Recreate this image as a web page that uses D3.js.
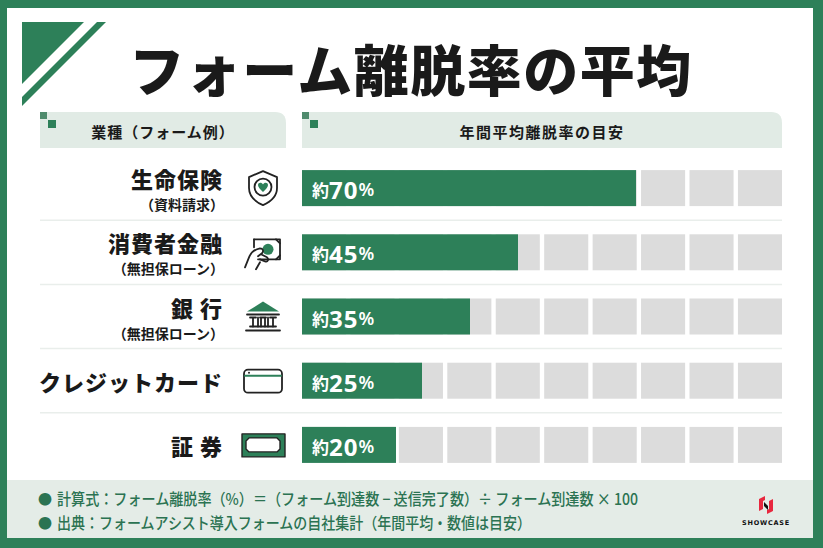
<!DOCTYPE html>
<html>
<head>
<meta charset="utf-8">
<script src="https://cdn.jsdelivr.net/npm/d3@7"></script>
<style>
  html, body { margin: 0; padding: 0; background: #fff; }
  svg { display: block; font-family: "Noto Sans CJK JP", "Noto Sans", sans-serif; }
</style>
</head>
<body>
<svg id="chart"></svg>
<script>
// data
const categories = ['生命保険', '消費者金融', '銀 行', 'クレジットカード', '証 券']
const subLabels = ['（資料請求）', '（無担保ローン）', '（無担保ローン）', '', '']
const rates = [70, 45, 35, 25, 20]
const segmentTicks = [0, 10, 20, 30, 40, 50, 60, 70, 80, 90]
const iconKinds = ['shield', 'money', 'bank', 'card', 'bond']

const titleText = 'フォーム離脱率の平均'
const headLeft = '業種（フォーム例）'
const headRight = '年間平均離脱率の目安'
const notes = [
  '計算式：フォーム離脱率（%）＝（フォーム到達数 − 送信完了数）÷ フォーム到達数 × 100',
  '出典：フォームアシスト導入フォームの自社集計（年間平均・数値は目安）'
]
const noteWidths = [581, 474]

const w = 823
const h = 548
const green = '#2d8059'
const mint = '#e1ebe5'
const ink = '#1a1a1a'

let svg = d3.select('#chart').attr('width', w).attr('height', h)

// frame
svg.append('rect').attr('width', w).attr('height', h).attr('fill', green)
svg.append('rect').attr('x', 7).attr('y', 8).attr('width', 806).attr('height', 530).attr('fill', '#fff')
svg.append('rect').attr('x', 7).attr('y', 480).attr('width', 806).attr('height', 58).attr('fill', '#e4ece7')

// corner decoration
svg.append('path').attr('d', 'M22,22 L84,22 L22,84 Z').attr('fill', green)
svg.append('path').attr('d', 'M97,22 L106,22 L22,106 L22,97 Z').attr('fill', green)

// title
svg.append('text')
  .attr('x', 411).attr('y', 67)
  .attr('text-anchor', 'middle').attr('dominant-baseline', 'central')
  .attr('font-size', 55).attr('font-weight', 900).attr('fill', ink)
  .attr('letter-spacing', 1.5)
  .text(titleText)

// scales
let xScale = d3.scaleLinear().domain([0, 100]).range([302, 782])
let segScale = d3.scaleBand().domain(segmentTicks).range([302, 782]).paddingInner(0.09)
let yScale = d3.scaleBand().domain(categories).range([156, 477])
const barH = 36

// headers
let headerPath = (x0, x1, y0, y1, r) =>
  `M${x0},${y0} L${x1 - r},${y0} Q${x1},${y0} ${x1},${y0 + r} L${x1},${y1} L${x0},${y1} Z`

svg.append('path').attr('d', headerPath(40, 286, 112, 148, 11)).attr('fill', mint)
svg.append('path').attr('d', headerPath(302, 782, 112, 148, 11)).attr('fill', mint)
;[40, 302].forEach(x0 => {
  svg.append('rect').attr('x', x0).attr('y', 112).attr('width', 7).attr('height', 7).attr('fill', '#4f8b6d')
  svg.append('rect').attr('x', x0 + 8).attr('y', 120).attr('width', 8).attr('height', 8).attr('fill', green)
})
svg.append('text').attr('x', 163).attr('y', 131)
  .attr('text-anchor', 'middle').attr('dominant-baseline', 'central')
  .attr('font-size', 15).attr('font-weight', 700).attr('fill', ink).attr('letter-spacing', 1)
  .text(headLeft)
svg.append('text').attr('x', 542).attr('y', 131)
  .attr('text-anchor', 'middle').attr('dominant-baseline', 'central')
  .attr('font-size', 15).attr('font-weight', 700).attr('fill', ink).attr('letter-spacing', 1.5)
  .text(headRight)

// separators
svg.selectAll('.sep')
  .data(categories.slice(1))
  .enter()
  .append('line')
  .attr('class', 'sep')
  .attr('x1', 40).attr('x2', 782)
  .attr('y1', d => yScale(d)).attr('y2', d => yScale(d))
  .attr('stroke', '#e9eeeb').attr('stroke-width', 1.5)

let rows = svg.selectAll('.row')
  .data(categories)
  .enter()
  .append('g')
  .attr('class', 'row')
  .attr('transform', d => 'translate(0,' + (yScale(d) + yScale.bandwidth() / 2) + ')')

// gray segments
rows.selectAll('.seg')
  .data(segmentTicks)
  .enter()
  .append('rect')
  .attr('class', 'seg')
  .attr('x', t => segScale(t))
  .attr('y', -barH / 2)
  .attr('width', segScale.bandwidth())
  .attr('height', barH)
  .attr('fill', '#dcdcdc')

// green bars
rows.append('rect')
  .attr('x', xScale(0))
  .attr('y', -barH / 2)
  .attr('width', (d, i) => xScale(rates[i]) - xScale(0) - (rates[i] % 10 === 0 ? 2 : 0))
  .attr('height', barH)
  .attr('fill', green)

let valText = rows.append('text')
  .attr('x', 312).attr('y', 1)
  .attr('dominant-baseline', 'central')
  .attr('fill', '#fff').attr('font-weight', 700)
valText.append('tspan').attr('font-size', 17).text('約')
valText.append('tspan').attr('font-size', 24).attr('font-family', '"Noto Sans", sans-serif')
  .attr('letter-spacing', 1).text((d, i) => rates[i])
valText.append('tspan').attr('font-size', 18).attr('font-family', '"Noto Sans", sans-serif')
  .attr('font-weight', 600).text('%')

// labels
rows.append('text')
  .attr('x', 223)
  .attr('y', (d, i) => subLabels[i] ? -10 : 0)
  .attr('text-anchor', 'end').attr('dominant-baseline', 'central')
  .attr('font-size', 22).attr('font-weight', 900).attr('fill', ink)
  .attr('letter-spacing', 1)
  .text(d => d)
rows.append('text')
  .attr('x', 224).attr('y', 16)
  .attr('text-anchor', 'end').attr('dominant-baseline', 'central')
  .attr('font-size', 14).attr('font-weight', 700).attr('fill', ink)
  .text((d, i) => subLabels[i])

// icons
let icons = rows.append('g').attr('transform', 'translate(263,0)')
  .attr('fill', 'none').attr('stroke', '#222').attr('stroke-width', 1.8)
  .attr('stroke-linejoin', 'round').attr('stroke-linecap', 'round')

icons.each(function (d, i) {
  let g = d3.select(this)
  let kind = iconKinds[i]
  if (kind === 'shield') {
    g.append('path').attr('d', 'M0,-17 L14,-11 L14,0 C14,9 7,14 0,17 C-7,14 -14,9 -14,0 L-14,-11 Z')
    g.append('circle').attr('cx', 0).attr('cy', -1).attr('r', 8.5)
    g.append('path').attr('stroke', 'none').attr('fill', green)
      .attr('d', 'M0,4 C-3,1 -5,-1 -5,-3 C-5,-6 -1,-6 0,-3.5 C1,-6 5,-6 5,-3 C5,-1 3,1 0,4 Z')
  } else if (kind === 'money') {
    g.append('path').attr('d', 'M-9,-13 L17,-13 L17,7 L-5,7')
    g.append('path').attr('d', 'M-9,-13 L-9,-5')
    g.append('path').attr('d', 'M13,-13 L17,-9 M13,7 L17,3')
    g.append('circle').attr('cx', 5).attr('cy', -3).attr('r', 5.5).attr('fill', green).attr('stroke', 'none')
    g.append('path').attr('d', 'M-18,15 L-14,5 C-12,0 -8,-3 -3,-4 C0,-4 1,-1 -1,1 L-5,4 M-2,2 L4,5 C6,7 5,10 2,9 L-3,7 M-7,17 L-3,10')
  } else if (kind === 'bank') {
    g.append('path').attr('d', 'M-16,-5 L0,-15 L16,-5 Z').attr('fill', green).attr('stroke', 'none')
    g.append('path').attr('d', 'M-16,-2 L16,-2')
    g.append('path').attr('d', 'M-10,1 L-10,10 M-5,1 L-5,10 M5,1 L5,10 M10,1 L10,10 M-2,1 L-2,10 M2,1 L2,10 M-13,1 L-7,1 M-3,1 L3,1 M7,1 L13,1')
    g.append('path').attr('d', 'M-13,10 L13,10 M-17,14 L17,14')
  } else if (kind === 'card') {
    g.append('rect').attr('x', -19).attr('y', -11).attr('width', 38).attr('height', 23).attr('rx', 4).attr('fill', '#fff')
    g.append('line').attr('x1', -18).attr('x2', 18).attr('y1', -5).attr('y2', -5).attr('stroke', green).attr('stroke-width', 2)
    g.append('circle').attr('cx', -14).attr('cy', -8).attr('r', 1).attr('fill', '#222').attr('stroke', 'none')
  } else {
    g.append('rect').attr('x', -21).attr('y', -11).attr('width', 43).attr('height', 23).attr('fill', green).attr('stroke-width', 1.4)
    g.append('path').attr('fill', '#fff').attr('stroke', '#222').attr('stroke-width', 1.4)
      .attr('d', 'M-14,-7 L14,-7 L17,-4 L17,4 L14,7 L-14,7 L-17,4 L-17,-4 Z')
  }
})

// footer notes
notes.forEach((t, i) => {
  let yy = 498 + i * 24
  svg.append('text').attr('x', 38).attr('y', yy)
    .attr('dominant-baseline', 'central').attr('font-size', 14).attr('fill', '#2b7352')
    .text('●')
  svg.append('text').attr('x', 57).attr('y', yy)
    .attr('dominant-baseline', 'central').attr('font-size', 16).attr('font-weight', 500).attr('fill', '#2b7352')
    .attr('textLength', noteWidths[i]).attr('lengthAdjust', 'spacingAndGlyphs')
    .text(t)
})

// logo
let logo = svg.append('g').attr('transform', 'translate(766,505)')
logo.append('path').attr('fill', '#e8283f').attr('d', 'M-7,-6 L-1,-9 L-1,-5 L-3,-4 L-3,4 L-7,6 Z')
logo.append('path').attr('fill', '#e8283f').attr('d', 'M7,6 L1,9 L1,5 L3,4 L3,-4 L7,-6 Z')
logo.append('path').attr('fill', '#111').attr('d', 'M-2,-3 L2,1 L2,5 L-2,1 Z')
svg.append('text').attr('x', 766).attr('y', 523)
  .attr('text-anchor', 'middle').attr('dominant-baseline', 'central')
  .attr('font-size', 6.5).attr('font-weight', 700).attr('letter-spacing', 0.8)
  .attr('font-family', '"DejaVu Sans", sans-serif').attr('fill', '#111')
  .text('SHOWCASE')
</script>
</body>
</html>
